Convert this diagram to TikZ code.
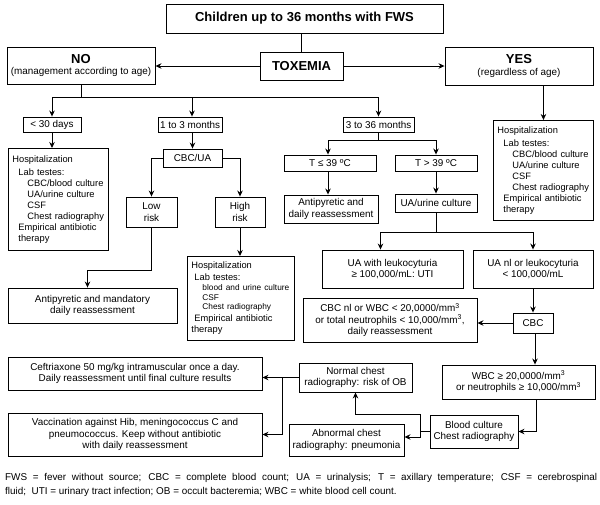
\documentclass[tikz,border=0pt]{standalone}
\usepackage{fontspec}
\setmainfont{Liberation Sans}
\usetikzlibrary{arrows.meta, positioning}

\begin{document}
\begin{tikzpicture}[
    x=1pt, y=-1pt,
    >={Stealth[length=6pt, width=5.5pt]},
    box/.style={draw, line width=0.9pt, align=center, inner sep=1pt,
        font=\fontsize{9.9}{11.5}\selectfont},
    headbox/.style={box, font=\fontsize{13}{14}\selectfont\bfseries},
    listbox/.style={draw, line width=0.9pt, align=left, anchor=north west,
        inner xsep=4pt, inner ysep=2pt, font=\fontsize{9.3}{11}\selectfont},
    link/.style={line width=0.9pt},
    arrow/.style={->, line width=0.9pt}
]
\useasboundingbox (0,0) rectangle (600,504);

% === Toxemia ===
\node[headbox, minimum width=277pt, minimum height=29pt] (title) at (304.5,18.5) {Children up to 36 months with FWS};
\node[headbox, minimum width=83pt, minimum height=28pt] (tox) at (301.5,66) {TOXEMIA};
\node[box, minimum width=148pt, minimum height=37pt] (no) at (81,65.5)
    {{\fontsize{13}{14}\selectfont\bfseries NO}\\(management according to age)};
\node[box, minimum width=148pt, minimum height=38pt] (yes) at (519,66)
    {{\fontsize{13}{14}\selectfont\bfseries YES}\\(regardless of age)};

\draw[link] (tox.north) -- (tox.north |- title.south);
\draw[arrow] (tox.west) -- (tox.west -| no.east);
\draw[arrow] (tox.east) -- (tox.east -| yes.west);

% === Age groups ===
\node[box, minimum width=58pt, minimum height=15pt] (d30) at (52,124.5) {< 30 days};
\node[box, minimum width=64pt, minimum height=15pt] (m13) at (190,124.5) {1 to 3 months};
\node[box, minimum width=71pt, minimum height=15pt] (m336) at (378.5,124.5) {3 to 36 months};

\draw[link] (no.south) -- ++(0,13) coordinate (nobus);
\draw[link] (d30.north |- nobus) -- (m336.north |- nobus);
\draw[arrow] (d30.north |- nobus) -- (d30.north);
\draw[arrow] ([xshift=2pt]m13.north |- nobus) -- ([xshift=2pt]m13.north);
\draw[arrow] (m336.north |- nobus) -- (m336.north);

% === Hospitalization boxes ===
\node[listbox, text width=92pt, minimum height=102pt] (hospA) at (8,148)
    {Hospitalization\\[2pt]
     \hspace*{6pt}Lab testes:\\
     \hspace*{15pt}CBC/blood culture\\
     \hspace*{15pt}UA/urine culture\\
     \hspace*{15pt}CSF\\
     \hspace*{15pt}Chest radiography\\
     \hspace*{6pt}Empirical antibiotic\\
     \hspace*{6pt}therapy};
\node[listbox, text width=92pt, minimum height=100pt] (hospC) at (493,120)
    {Hospitalization\\[2pt]
     \hspace*{6pt}Lab testes:\\
     \hspace*{15pt}CBC/blood culture\\
     \hspace*{15pt}UA/urine culture\\
     \hspace*{15pt}CSF\\
     \hspace*{15pt}Chest radiography\\
     \hspace*{6pt}Empirical antibiotic\\
     \hspace*{6pt}therapy};

\draw[arrow] (d30.south) -- (d30.south |- hospA.north);
\draw[arrow] (hospC.north |- yes.south) -- (hospC.north);

% === 1 to 3 months ===
\node[box, minimum width=59pt, minimum height=18pt] (cbcua) at (192.5,158) {CBC/UA};
\node[box, minimum width=51pt, minimum height=30pt] (low) at (151.5,212) {Low\\risk};
\node[box, minimum width=50pt, minimum height=30pt] (high) at (240,212) {High\\risk};
\node[box, minimum width=169pt, minimum height=35pt] (antiA) at (92.5,305.5)
    {Antipyretic and mandatory\\daily reassessment};
\node[listbox, text width=99pt, minimum height=84pt] (hospB) at (187,256)
    {Hospitalization\\[1pt]
     \hspace*{3pt}Lab testes:\\[-1pt]
     \hspace*{11pt}{\fontsize{8.3}{10}\selectfont blood and urine culture}\\[-1.5pt]
     \hspace*{11pt}{\fontsize{8.3}{10}\selectfont CSF}\\[-1.5pt]
     \hspace*{11pt}{\fontsize{8.3}{10}\selectfont Chest radiography}\\[1pt]
     \hspace*{3pt}Empirical antibiotic\\
     therapy};

\draw[arrow] (m13.south -| cbcua.north) -- (cbcua.north);
\draw[arrow] (cbcua.west) -| (low.north);
\draw[arrow] (cbcua.east) -| (high.north);
\draw[arrow] (low.south) -- ++(0,43) -| ([xshift=-5pt]antiA.north);
\draw[arrow] (high.south) -- (high.south |- hospB.north);

% === 3 to 36 months ===
\node[box, minimum width=92pt, minimum height=16pt] (tle) at (330,163) {T ≤ 39 ºC};
\node[box, minimum width=82pt, minimum height=16pt] (tgt) at (436,163) {T > 39 ºC};
\node[box, minimum width=94pt, minimum height=28pt] (antiB) at (331,209)
    {Antipyretic and\\daily reassessment};
\node[box, minimum width=82pt, minimum height=18pt] (uac) at (436,203) {UA/urine culture};
\node[box, minimum width=141pt, minimum height=38pt] (uti) at (392.5,269)
    {UA with leukocyturia\\≥ 100,000/mL: UTI};
\node[box, minimum width=120pt, minimum height=38pt] (uanl) at (533,269)
    {UA nl or leukocyturia\\< 100,000/mL};

\draw[link] (m336.south) -- ++(0,8) coordinate (mbus);
\draw[arrow] (mbus) -| ([xshift=-2pt]tle.north);
\draw[arrow] (mbus) -| (tgt.north);
\draw[arrow] ([xshift=-2pt]tle.south) -- ([xshift=-2pt]tle.south |- antiB.north);
\draw[arrow] (tgt.south) -- (uac.north);
\draw[link] (uac.south) -- ++(0,20) coordinate (ubus);
\draw[arrow] (ubus) -| ([xshift=-12pt]uti.north);
\draw[arrow] (ubus) -| (uanl.north);

% === CBC ===
\node[box, minimum width=40pt, minimum height=20pt] (cbc) at (533,323) {CBC};
\node[box, minimum width=174pt, minimum height=44pt] (cbcnl) at (390,320)
    {CBC nl or WBC < 20,0000/mm\textsuperscript{3}\\or total neutrophils < 10,000/mm\textsuperscript{3},\\daily reassessment};
\node[box, minimum width=153pt, minimum height=34pt] (wbc) at (518.5,382)
    {WBC ≥ 20,0000/mm\textsuperscript{3}\\or neutrophils ≥ 10,000/mm\textsuperscript{3}};

\draw[arrow] (uanl.south) -- (cbc.north);
\draw[arrow] (cbc.west) -- (cbc.west -| cbcnl.east);
\draw[arrow] ([xshift=2pt]cbc.south) -- ([xshift=2pt]cbc.south |- wbc.north);

% === Chest radiography ===
\node[box, minimum width=88pt, minimum height=33pt] (blood) at (474,431.5)
    {Blood culture\\Chest radiography};
\node[box, minimum width=113pt, minimum height=29pt] (normal) at (355.5,377.5)
    {Normal chest\\radiography: risk of OB};
\node[box, minimum width=115pt, minimum height=32pt] (abnormal) at (346.5,440)
    {Abnormal chest\\radiography: pneumonia};
\node[box, minimum width=254pt, minimum height=33pt] (ceft) at (135,373.5)
    {Ceftriaxone 50 mg/kg intramuscular once a day.\\Daily reassessment until final culture results};
\node[box, minimum width=254pt, minimum height=43pt] (vacc) at (135,434.5)
    {Vaccination against Hib, meningococcus C and\\pneumococcus. Keep without antibiotic\\with daily reassessment};

\draw[arrow] ([xshift=3pt]cbc.south |- wbc.south) |- (blood.east);
\draw[link] (blood.west) -- ++(-9,0) coordinate (bj);
\draw[arrow] (bj) -- (bj |- blood.north) -| (normal.south);
\draw[arrow] (bj) |- ([yshift=3pt]abnormal.east);
\draw[link] (normal.west) -- ++(-16,0) coordinate (nj);
\draw[arrow] (nj) -- (nj -| ceft.east);
\draw[arrow] (nj) |- (vacc.east);

% === Abbreviations ===
\node[anchor=north west, text width=592pt, align=justify, inner sep=0pt,
    font=\fontsize{9.9}{14}\selectfont] (legend) at (5,473)
    {FWS = fever without source; CBC = complete blood count; UA = urinalysis; T = axillary temperature; CSF = cerebrospinal\linebreak
     fluid;~ UTI = urinary tract infection; OB = occult bacteremia; WBC = white blood cell count.};

\end{tikzpicture}
\end{document}
